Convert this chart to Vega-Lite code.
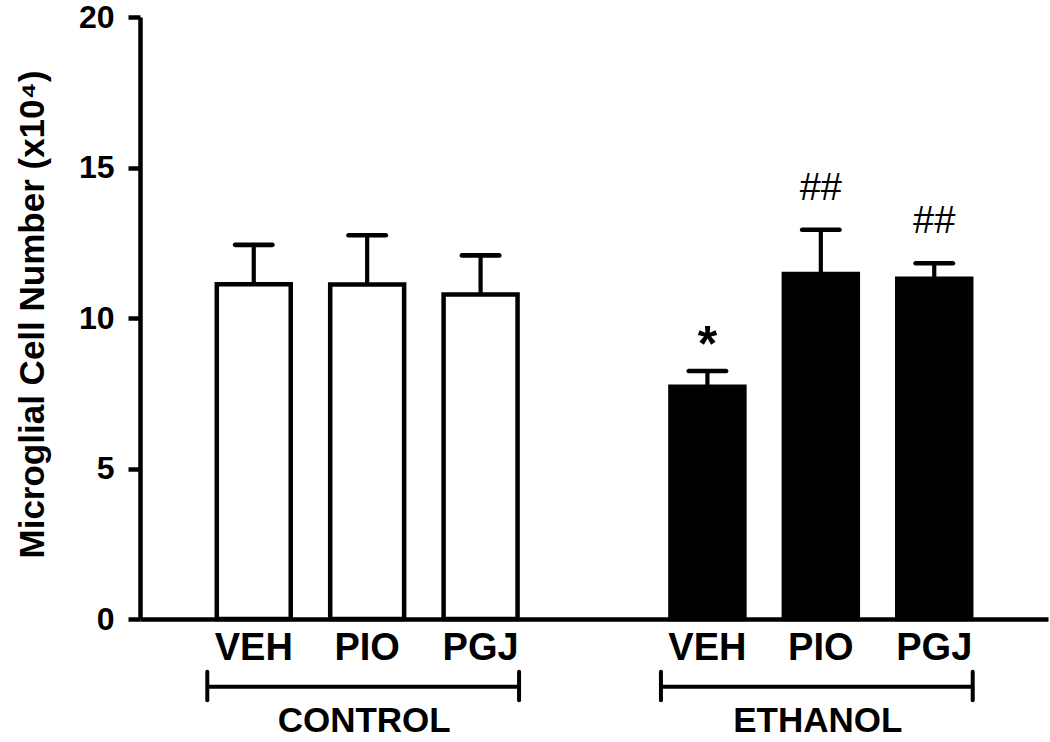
{
  "$schema": "https://vega.github.io/schema/vega-lite/v6.json",
  "autosize": "none",
  "width": 908,
  "height": 602,
  "padding": {"left": 140, "top": 17, "right": 2, "bottom": 123},
  "background": "white",
  "config": {"view": {"stroke": null}, "font": "Liberation Sans"},
  "datasets": {
    "bars": [
      {"key": "CONTROL VEH", "group": "CONTROL", "treatment": "VEH", "mean": 11.12, "hi": 12.43, "sig": ""},
      {"key": "CONTROL PIO", "group": "CONTROL", "treatment": "PIO", "mean": 11.11, "hi": 12.75, "sig": ""},
      {"key": "CONTROL PGJ", "group": "CONTROL", "treatment": "PGJ", "mean": 10.78, "hi": 12.08, "sig": ""},
      {"key": "ETHANOL VEH", "group": "ETHANOL", "treatment": "VEH", "mean": 7.72, "hi": 8.24, "sig": "*"},
      {"key": "ETHANOL PIO", "group": "ETHANOL", "treatment": "PIO", "mean": 11.46, "hi": 12.93, "sig": "##"},
      {"key": "ETHANOL PGJ", "group": "ETHANOL", "treatment": "PGJ", "mean": 11.3, "hi": 11.82, "sig": "##"}
    ],
    "groups": [
      {"group": "CONTROL", "first": "CONTROL VEH", "mid": "CONTROL PIO", "last": "CONTROL PGJ"},
      {"group": "ETHANOL", "first": "ETHANOL VEH", "mid": "ETHANOL PIO", "last": "ETHANOL PGJ"}
    ]
  },
  "layer": [
    {
      "data": {"name": "bars"},
      "mark": {"type": "bar", "stroke": "black", "strokeWidth": 4.5, "opacity": 1},
      "encoding": {
        "x": {
          "field": "key", "type": "nominal",
          "scale": {
            "domain": ["CONTROL VEH", "CONTROL PIO", "CONTROL PGJ", "gap", "ETHANOL VEH", "ETHANOL PIO", "ETHANOL PGJ"],
            "paddingInner": 0.348, "paddingOuter": 0.677
          },
          "axis": {
            "title": null, "ticks": false, "tickSize": 0, "labelPadding": 10,
            "labelExpr": "datum.value == 'gap' ? '' : split(datum.value, ' ')[1]",
            "labelAngle": 0, "labelFont": "Liberation Sans", "labelFontWeight": "bold",
            "labelFontSize": 38, "labelColor": "black",
            "domainColor": "black", "domainWidth": 4.5, "grid": false
          }
        },
        "y": {
          "field": "mean", "type": "quantitative",
          "scale": {"domain": [0, 20], "nice": false},
          "axis": {
            "values": [0, 5, 10, 15, 20],
            "title": "Microglial Cell Number (x10⁴)",
            "titleFont": "Liberation Sans", "titleFontWeight": "bold", "titleFontSize": 35,
            "titleColor": "black", "titleX": -97, "titleY": 297, "titleBaseline": "alphabetic",
            "titleAngle": 270,
            "labelFont": "Liberation Sans", "labelFontWeight": "bold", "labelFontSize": 32,
            "labelColor": "black", "labelPadding": 14,
            "tickSize": 12, "tickWidth": 4.5, "tickColor": "black",
            "domainColor": "black", "domainWidth": 4.5, "grid": false
          }
        },
        "fill": {
          "field": "group", "type": "nominal",
          "scale": {"domain": ["CONTROL", "ETHANOL"], "range": ["white", "black"]},
          "legend": null
        }
      }
    },
    {
      "data": {"name": "bars"},
      "mark": {"type": "rule", "strokeWidth": 4.2, "color": "black", "opacity": 1},
      "encoding": {
        "x": {"field": "key", "type": "nominal"},
        "y": {"field": "mean", "type": "quantitative"},
        "y2": {"field": "hi"}
      }
    },
    {
      "data": {"name": "bars"},
      "mark": {"type": "tick", "size": 42, "thickness": 4.6, "color": "black", "opacity": 1, "cornerRadius": 2.3},
      "encoding": {
        "x": {"field": "key", "type": "nominal"},
        "y": {"field": "hi", "type": "quantitative"}
      }
    },
    {
      "data": {"name": "bars"},
      "transform": [{"filter": "datum.sig == '*'"}],
      "mark": {"type": "text", "font": "Liberation Sans", "fontWeight": "bold", "fontSize": 50, "baseline": "alphabetic", "dy": -10, "color": "black"},
      "encoding": {
        "x": {"field": "key", "type": "nominal"},
        "y": {"field": "hi", "type": "quantitative"},
        "text": {"field": "sig"}
      }
    },
    {
      "data": {"name": "bars"},
      "transform": [{"filter": "datum.sig == '##'"}],
      "mark": {"type": "text", "font": "Liberation Sans", "fontWeight": "normal", "fontSize": 38, "baseline": "alphabetic", "dy": -30, "color": "black"},
      "encoding": {
        "x": {"field": "key", "type": "nominal"},
        "y": {"field": "hi", "type": "quantitative"},
        "text": {"field": "sig"}
      }
    },
    {
      "data": {"name": "groups"},
      "mark": {"type": "rule", "strokeWidth": 4, "color": "black", "xOffset": -9.5, "x2Offset": 1.5},
      "encoding": {
        "x": {"field": "first", "type": "nominal", "bandPosition": 0},
        "x2": {"field": "last", "bandPosition": 1},
        "y": {"datum": -2.25}
      }
    },
    {
      "data": {"name": "groups"},
      "mark": {"type": "rule", "strokeWidth": 4, "color": "black", "xOffset": -9.5, "strokeCap": "round"},
      "encoding": {
        "x": {"field": "first", "type": "nominal", "bandPosition": 0},
        "y": {"datum": -1.75},
        "y2": {"datum": -2.7}
      }
    },
    {
      "data": {"name": "groups"},
      "mark": {"type": "rule", "strokeWidth": 4, "color": "black", "xOffset": 1.5, "strokeCap": "round"},
      "encoding": {
        "x": {"field": "last", "type": "nominal", "bandPosition": 1},
        "y": {"datum": -1.75},
        "y2": {"datum": -2.7}
      }
    },
    {
      "data": {"name": "groups"},
      "mark": {"type": "text", "font": "Liberation Sans", "fontWeight": "bold", "fontSize": 35, "baseline": "middle", "dx": -3, "color": "black"},
      "encoding": {
        "x": {"field": "mid", "type": "nominal"},
        "y": {"datum": -3.38},
        "text": {"field": "group"}
      }
    }
  ]
}
